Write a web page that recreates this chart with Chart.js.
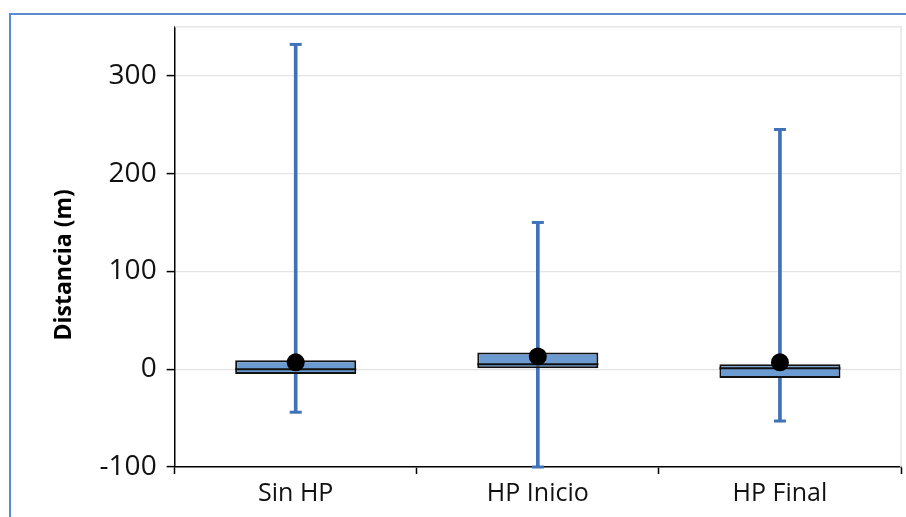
<!DOCTYPE html>
<html>
<head>
<meta charset="utf-8">
<script src="https://cdn.jsdelivr.net/npm/chart.js@4/dist/chart.umd.min.js"></script>
<style>
  html, body { margin: 0; padding: 0; background: #fff; }
  #wrap { position: relative; width: 906px; height: 517px; overflow: hidden; }
  #frame { position: absolute; left: 9px; top: 13px; width: 920px; height: 540px;
           border-left: 2px solid #5a8ad0; border-top: 2px solid #5a8ad0; }
  canvas { position: absolute; left: 0; top: 0; }
</style>
</head>
<body>
<div id="wrap">
  <div id="frame"></div>
  <canvas id="c" width="906" height="517"></canvas>
</div>
<script>
const categories = ['Sin HP', 'HP Inicio', 'HP Final'];
const whiskerMin = [-44, -100, -53];
const whiskerMax = [332, 150, 245];
const q1 = [-5, 1, -9];
const q3 = [9, 17, 5];
const median = [0, 5, 1];
const mean = [7, 13, 7];
const yTicks = [-100, 0, 100, 200, 300];

const BLUE = '#3f72b6';
const BOX = '#6c9bd2';

const plotFrame = {
  id: 'plotFrame',
  beforeDatasetsDraw(chart) {
    const a = chart.chartArea, ctx = chart.ctx;
    ctx.save();
    ctx.strokeStyle = '#e6e6e6';
    ctx.lineWidth = 1.5;
    ctx.beginPath();
    ctx.moveTo(a.left, a.top);
    ctx.lineTo(a.right, a.top);
    ctx.lineTo(a.right, a.bottom);
    ctx.stroke();
    ctx.restore();
  }
};

const halfBox = ctx => ctx.chart.scales.x.width / categories.length * 0.25;

new Chart(document.getElementById('c'), {
  type: 'bar',
  data: {
    labels: categories,
    datasets: [
      {
        type: 'line', label: 'mean', data: mean, order: 1,
        showLine: false, pointRadius: 9, pointHoverRadius: 9,
        pointBackgroundColor: '#000', pointBorderColor: '#000', pointBorderWidth: 0
      },
      {
        type: 'line', label: 'median', data: median, order: 2,
        showLine: false, pointStyle: 'line', pointRadius: halfBox, pointHoverRadius: halfBox,
        pointBorderColor: '#111', pointBorderWidth: 2
      },
      {
        type: 'bar', label: 'box', order: 3, grouped: false,
        data: categories.map((_, i) => [q1[i], q3[i]]),
        backgroundColor: BOX, borderColor: '#111', borderWidth: 2, borderSkipped: false,
        categoryPercentage: 1, barPercentage: 0.5
      },
      {
        type: 'line', label: 'capMax', data: whiskerMax, order: 4, clip: false,
        showLine: false, pointStyle: 'line', pointRadius: 6, pointHoverRadius: 6,
        pointBorderColor: BLUE, pointBorderWidth: 3
      },
      {
        type: 'line', label: 'capMin', data: whiskerMin, order: 4, clip: false,
        showLine: false, pointStyle: 'line', pointRadius: 6, pointHoverRadius: 6,
        pointBorderColor: BLUE, pointBorderWidth: 3
      },
      {
        type: 'bar', label: 'whisker', order: 5, grouped: false,
        data: categories.map((_, i) => [whiskerMin[i], whiskerMax[i]]),
        backgroundColor: BLUE, borderWidth: 0, barThickness: 3
      }
    ]
  },
  options: {
    responsive: false,
    animation: false,
    events: [],
    layout: { autoPadding: false, padding: { left: 40, top: 25, right: 5, bottom: 3 } },
    plugins: { legend: { display: false }, tooltip: { enabled: false } },
    scales: {
      x: {
        offset: true,
        grid: { offset: true, drawOnChartArea: false, tickLength: 7, tickColor: '#000', tickWidth: 1.5 },
        border: { color: '#000', width: 1.5 },
        ticks: { color: '#111', padding: 5, font: { family: 'Open Sans', size: 25 } }
      },
      y: {
        min: -100, max: 350,
        afterBuildTicks: s => { s.ticks = yTicks.map(v => ({ value: v })); },
        grid: { color: '#e4e4e4', lineWidth: 1.2, tickLength: 8, tickColor: '#000', tickWidth: 1.5 },
        border: { color: '#000', width: 1.5 },
        ticks: { color: '#111', padding: 10, font: { family: 'Open Sans', size: 28 } },
        title: {
          display: true, text: 'Distancia (m)\u00a0\u00a0\u00a0\u00a0\u00a0\u00a0', color: '#000',
          font: { family: 'Open Sans', size: 23, weight: 'bold' },
          padding: { top: 11, bottom: 11 }
        }
      }
    }
  },
  plugins: [plotFrame]
});
</script>
</body>
</html>
